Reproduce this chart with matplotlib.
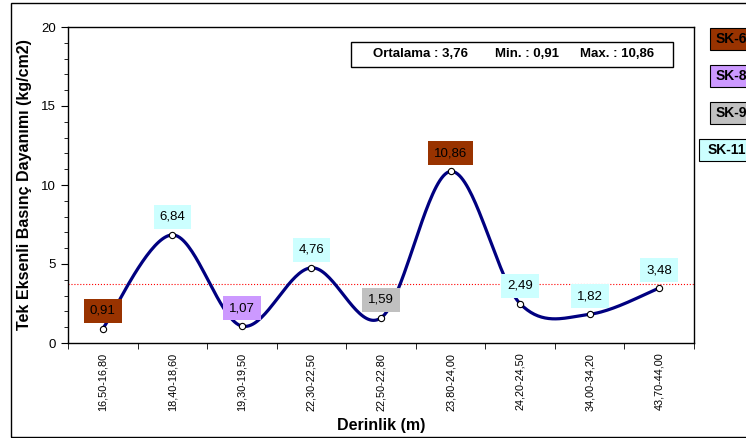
import numpy as np
import matplotlib.pyplot as plt
from matplotlib.patches import Rectangle

plt.rcParams['font.family'] = ['Liberation Sans', 'DejaVu Sans']

# data
depths = ['16,50-16,80', '18,40-18,60', '19,30-19,50', '22,30-22,50', '22,50-22,80',
          '23,80-24,00', '24,20-24,50', '34,00-34,20', '43,70-44,00']
values = [0.91, 6.84, 1.07, 4.76, 1.59, 10.86, 2.49, 1.82, 3.48]
wells = ['SK-6', 'SK-11', 'SK-8', 'SK-11', 'SK-9', 'SK-6', 'SK-11', 'SK-11', 'SK-11']
mean_val = 3.76

well_colors = {'SK-6': '#993300', 'SK-8': '#CC99FF', 'SK-9': '#C0C0C0', 'SK-11': '#CCFFFF'}
legend_order = ['SK-6', 'SK-8', 'SK-9', 'SK-11']


def smooth_line(x, y, n=40):
    """ Excel-like smoothed line (Catmull-Rom as cubic Bezier) """
    x = np.asarray(x, float)
    y = np.asarray(y, float)
    px = np.concatenate([[x[0]], x, [x[-1]]])
    py = np.concatenate([[y[0]], y, [y[-1]]])
    t = np.linspace(0, 1, n)
    xs, ys = [], []
    for i in range(1, len(px) - 2):
        p0 = np.array([px[i], py[i]])
        p3 = np.array([px[i + 1], py[i + 1]])
        c1 = p0 + (p3 - np.array([px[i - 1], py[i - 1]])) / 6
        c2 = p3 - (np.array([px[i + 2], py[i + 2]]) - p0) / 6
        b = ((1 - t) ** 3)[:, None] * p0 + (3 * (1 - t) ** 2 * t)[:, None] * c1 \
            + (3 * (1 - t) * t ** 2)[:, None] * c2 + (t ** 3)[:, None] * p3
        xs.append(b[:, 0])
        ys.append(b[:, 1])
    return np.concatenate(xs), np.concatenate(ys)


fig = plt.figure(figsize=(7.46, 4.38), dpi=100)
ax = fig.add_axes([68 / 746, 1 - 343 / 438, 626 / 746, 316 / 438])

# outer chart border
fig.patches.append(Rectangle((11 / 746, 1 / 438), 1.0, 434 / 438, transform=fig.transFigure,
                             fill=False, edgecolor='black', linewidth=1.0))

xpos = np.arange(len(values))
sx, sy = smooth_line(xpos, values)
ax.axhline(mean_val, color='red', linestyle=':', linewidth=0.8, zorder=1)
ax.plot(sx, sy, color='#000080', linewidth=2.3, zorder=2)
ax.plot(xpos, values, linestyle='none', marker='o', markersize=4.5,
        markerfacecolor='white', markeredgecolor='black', markeredgewidth=0.8, zorder=3)

# value labels coloured by well
for xi, v, w in zip(xpos, values, wells):
    ax.annotate(f'{v:.2f}'.replace('.', ','), (xi, v), xytext=(0, 18), textcoords='offset pixels',
                ha='center', va='center', fontsize=9.5, zorder=4,
                bbox=dict(boxstyle='square,pad=0.45', facecolor=well_colors[w], edgecolor='none'))

ax.set_xlim(-0.5, len(values) - 0.5)
ax.set_ylim(0, 20)
ax.set_yticks([0, 5, 10, 15, 20])
ax.set_yticks(np.arange(0, 21, 1), minor=True)
ax.set_xticks(xpos)
ax.set_xticklabels(depths, rotation=90, fontsize=7.8)
ax.set_xticks(np.arange(-0.5, len(values), 1), minor=True)
ax.tick_params(axis='x', which='major', length=0, pad=7)
ax.tick_params(axis='x', which='minor', length=4, direction='out')
ax.tick_params(axis='y', which='major', length=5, labelsize=9.5)
ax.tick_params(axis='y', which='minor', length=3)
for s in ax.spines.values():
    s.set_linewidth(1.0)

ax.set_xlabel('Derinlik (m)', fontsize=11.5, fontweight='bold', labelpad=5)
ax.set_ylabel('Tek Eksenli Basınç Dayanımı (kg/cm2)', fontsize=11.5, fontweight='bold', labelpad=7)

# statistics box
fig.patches.append(Rectangle((351 / 746, 1 - 67 / 438), 322 / 746, 25 / 438, transform=fig.transFigure,
                             facecolor='white', edgecolor='black', linewidth=1.0))
ytxt = 1 - 54 / 438
fig.text(420 / 746, ytxt, 'Ortalama : 3,76', ha='center', va='center', fontsize=9.5, fontweight='bold')
fig.text(527 / 746, ytxt, 'Min. : 0,91', ha='center', va='center', fontsize=9.5, fontweight='bold')
fig.text(617 / 746, ytxt, 'Max. : 10,86', ha='center', va='center', fontsize=9.5, fontweight='bold')

# well legend boxes
leg_x = [710, 710, 710, 699]
leg_y = [39, 76, 113, 150]
leg_pad = [6, 6, 6, 9]
for name, lx, ly, lp in zip(legend_order, leg_x, leg_y, leg_pad):
    fig.patches.append(Rectangle((lx / 746, 1 - (ly + 11) / 438), 60 / 746, 22 / 438,
                                 transform=fig.transFigure, facecolor=well_colors[name],
                                 edgecolor='black', linewidth=0.8))
    fig.text((lx + lp) / 746, 1 - ly / 438, name, ha='left', va='center', fontsize=10, fontweight='bold')

fig.savefig('out.png', dpi=100)
